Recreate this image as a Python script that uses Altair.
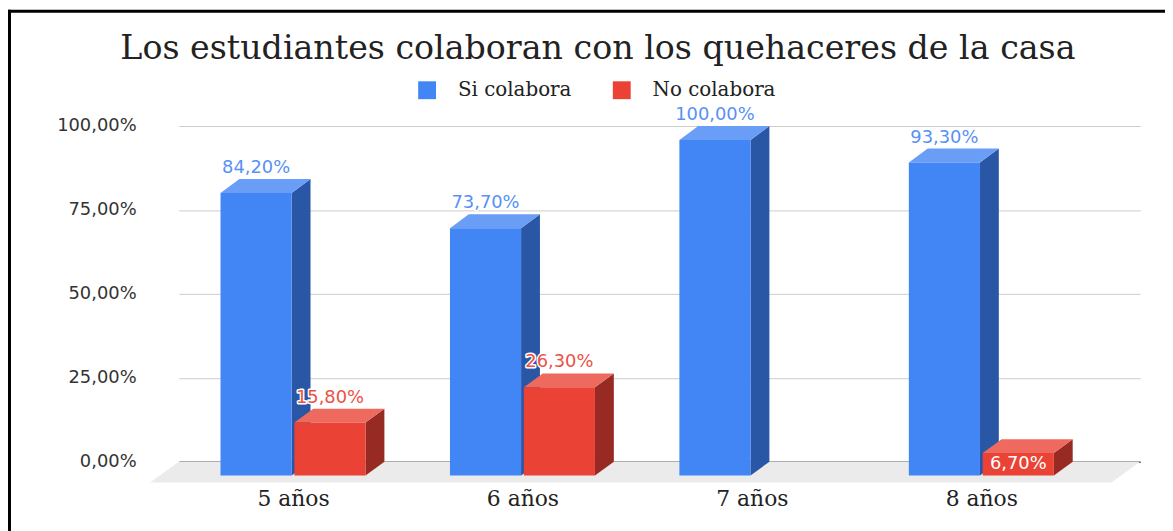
import json
import altair as alt
import pandas as pd

# ---- data ----
TITLE = "Los estudiantes colaboran con los quehaceres de la casa"
categorias = ["5 años", "6 años", "7 años", "8 años"]
series = ["Si colabora", "No colabora"]
si_colabora = [84.2, 73.7, 100.0, 93.3]
no_colabora = [15.8, 26.3, 0.0, 6.7]
y_ticks = [0, 25, 50, 75, 100]

rows = []
for i, c in enumerate(categorias):
    for s, vals in enumerate((si_colabora, no_colabora)):
        rows.append({"cat": c, "ci": i, "serie": series[s], "si": s, "value": vals[i]})
df = pd.DataFrame(rows)
# two vertices per bar face (front edge = 0, back edge = 1)
df_pts = pd.concat([df.assign(pt=0), df.assign(pt=1)], ignore_index=True)

# ---- layout / style constants ----
W, H = 968, 338
X0, X1 = -0.080, 4.110          # x domain (category i centred at i + 0.5)
BAR_W = 0.31
OFF = 0.161
DX = 19 / 231                    # 3D depth, x units
DY = 14 / 3.38                   # 3D depth, y units
FLOOR_DX = 29 / 231
FLOOR_DY = 21 / 3.38

BLUE, BLUE_SIDE, BLUE_TOP = "#4285F4", "#2A56A6", "#6A9DF6"
RED, RED_SIDE, RED_TOP = "#EA4335", "#972A22", "#EE6A5E"

xs = alt.Scale(domain=[X0, X1], nice=False, zero=False)
ys = alt.Scale(domain=[0, 100], nice=False, zero=False)

fmt = "replace(format(datum.value / 100, '.2%'), '.', ',')"
cat_js = json.dumps(categorias, ensure_ascii=False)

yaxis = alt.Axis(values=y_ticks, labelExpr=fmt, title=None, ticks=False, domain=False,
                 grid=True, gridColor="#cccccc", gridWidth=1, labelPadding=43,
                 labelFont="DejaVu Sans", labelFontSize=18, labelColor="#333333")
xaxis = alt.Axis(values=[i + 0.5 - DX for i in range(len(categorias))],
                 labelExpr=f"{cat_js}[floor(datum.value)]", title=None, ticks=False,
                 grid=False, domain=True, domainColor="#444444", domainWidth=1.5,
                 labelFont="DejaVu Serif", labelFontSize=22, labelColor="#222222",
                 labelPadding=27)


def geom(chart):
    return (chart
            .transform_filter("datum.value > 0")
            .transform_calculate(xa=f"datum.ci + 0.5 + (datum.si == 0 ? {-OFF} : {OFF}) - {BAR_W / 2}")
            .transform_calculate(xb=f"datum.xa + {BAR_W}")
            .transform_calculate(fxa=f"datum.xa - {DX}")
            .transform_calculate(fxb=f"datum.xb - {DX}")
            .transform_calculate(fy=f"datum.value - {DY}")
            .transform_calculate(fy0=f"{-DY}")
            .transform_calculate(cx="(datum.fxa + datum.fxb) / 2")
            .transform_calculate(label=fmt)
            .transform_calculate(bid="datum.ci * 2 + datum.si"))


base = geom(alt.Chart(df))
pts = geom(alt.Chart(df_pts))

# side faces
side = (pts
        .transform_calculate(sx="datum.pt == 0 ? datum.fxb : datum.xb")
        .transform_calculate(sy="datum.pt == 0 ? datum.fy : datum.value")
        .transform_calculate(sy2="datum.pt == 0 ? datum.fy0 : 0")
        .mark_area()
        .encode(x=alt.X("sx:Q", scale=xs, axis=xaxis),
                y=alt.Y("sy:Q", scale=ys, axis=yaxis, stack=None),
                y2="sy2:Q",
                detail="bid:N",
                color=alt.condition("datum.si == 0", alt.value(BLUE_SIDE), alt.value(RED_SIDE))))

# top faces, one layer per bar
tops = []
for i in range(len(categorias)):
    for s in range(len(series)):
        tops.append(
            pts.transform_filter(f"datum.ci == {i} && datum.si == {s}")
            .transform_calculate(ty="datum.pt == 0 ? datum.fy : datum.value")
            .transform_calculate(txa="datum.pt == 0 ? datum.fxa : datum.xa")
            .transform_calculate(txb="datum.pt == 0 ? datum.fxb : datum.xb")
            .mark_area(orient="horizontal", color=BLUE_TOP if s == 0 else RED_TOP)
            .encode(y=alt.Y("ty:Q", scale=ys, axis=yaxis),
                    x=alt.X("txa:Q", scale=xs, axis=xaxis, stack=None),
                    x2="txb:Q"))

# front faces
front = (base.mark_rect()
         .encode(x=alt.X("fxa:Q", scale=xs, axis=xaxis),
                 x2="fxb:Q",
                 y=alt.Y("fy:Q", scale=ys, axis=yaxis),
                 y2="fy0:Q",
                 color=alt.Color("serie:N",
                                 scale=alt.Scale(domain=series, range=[BLUE, RED]),
                                 legend=alt.Legend(title=None, orient="none", legendX=240,
                                                   legendY=-46, direction="horizontal",
                                                   symbolType="square", symbolSize=324,
                                                   symbolStrokeWidth=0, labelFont="DejaVu Serif",
                                                   labelFontSize=20, labelColor="#222222",
                                                   labelOffset=21, columnPadding=40, padding=0))))

# floor
floor_df = pd.DataFrame({"fy": [0.0, -FLOOR_DY],
                         "fxa": [X0, X0 - FLOOR_DX],
                         "fxb": [X1, X1 - FLOOR_DX]})
floor = (alt.Chart(floor_df).mark_area(orient="horizontal", color="#ebebeb")
         .encode(y=alt.Y("fy:Q", scale=ys, axis=yaxis),
                 x=alt.X("fxa:Q", scale=xs, axis=xaxis, stack=None),
                 x2="fxb:Q"))

# value labels
above = base.transform_filter("datum.value >= 10")
lab_halo = (above.mark_text(font="DejaVu Sans", fontSize=18, baseline="alphabetic", dy=-6,
                            stroke="white", strokeWidth=3, strokeJoin="round", fill="white")
            .encode(x=alt.X("cx:Q", scale=xs, axis=xaxis), y=alt.Y("value:Q", scale=ys, axis=yaxis),
                    text="label:N"))
lab = (above.mark_text(font="DejaVu Sans", fontSize=18, baseline="alphabetic", dy=-6)
       .encode(x=alt.X("cx:Q", scale=xs, axis=xaxis), y=alt.Y("value:Q", scale=ys, axis=yaxis),
               text="label:N",
               color=alt.condition("datum.si == 0", alt.value("#5791F5"), alt.value("#EB5246"))))
inside = (base.transform_filter("datum.value < 10")
          .transform_calculate(my="(datum.fy + datum.fy0) / 2")
          .mark_text(font="DejaVu Sans", fontSize=18, baseline="middle", color="white")
          .encode(x=alt.X("cx:Q", scale=xs, axis=xaxis), y=alt.Y("my:Q", scale=ys, axis=yaxis),
                  text="label:N"))

blank = alt.Data(values=[{}])
title = (alt.Chart(blank).mark_text(text=TITLE, font="DejaVu Serif", fontSize=33.5, color="#222222",
                                    align="center", baseline="alphabetic")
         .encode(x=alt.value(422), y=alt.value(-67)))
frame_top = (alt.Chart(blank).mark_rule(color="black", strokeWidth=3)
             .encode(x=alt.value(-172), x2=alt.value(W + 30), y=alt.value(-115.5)))
frame_left = (alt.Chart(blank).mark_rule(color="black", strokeWidth=3)
              .encode(x=alt.value(-170.5), y=alt.value(-117), y2=alt.value(H + 70)))

chart = (alt.layer(floor, side, *tops, front, lab_halo, lab, inside, title, frame_top, frame_left)
         .properties(width=W, height=H, autosize=alt.AutoSizeParams(type="none"),
                     padding={"left": 172, "top": 117, "right": 25, "bottom": 68},
                     background="white")
         .configure_view(stroke=None))

chart.save("out.html", embed_options={"renderer": "svg", "actions": False})
